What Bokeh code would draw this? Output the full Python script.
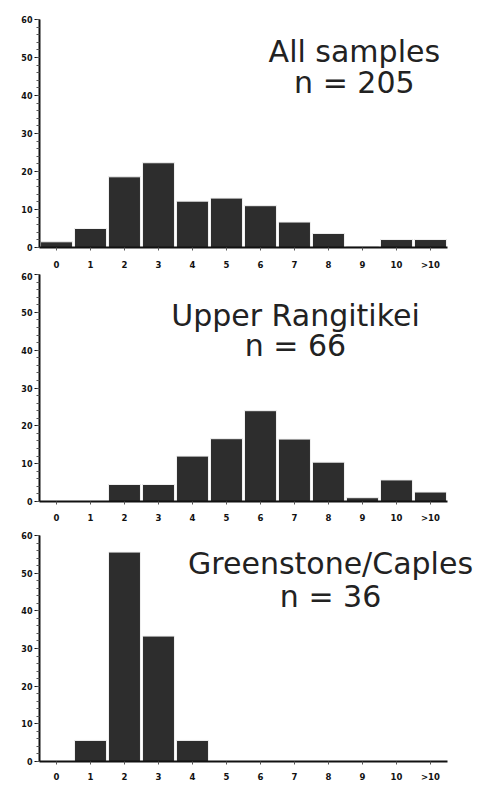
from bokeh.plotting import figure
from bokeh.models import Range1d, Label, FixedTicker
from bokeh.layouts import column
from bokeh.embed import file_html
from bokeh.resources import INLINE

categories = ["0", "1", "2", "3", "4", "5", "6", "7", "8", "9", "10", ">10"]

all_samples = [1.5, 5.0, 18.6, 22.3, 12.2, 13.0, 11.0, 6.7, 3.7, 0.3, 2.1, 2.1]
upper_rangitikei = [0.0, 0.0, 4.5, 4.5, 12.0, 16.6, 24.0, 16.5, 10.4, 1.0, 5.7, 2.5]
greenstone_caples = [0.0, 5.6, 55.6, 33.3, 5.6, 0.0, 0.0, 0.0, 0.0, 0.0, 0.0, 0.0]

titles = [("All samples", "n = 205"), ("Upper Rangitikei", "n = 66"), ("Greenstone/Caples", "n = 36")]
series = [all_samples, upper_rangitikei, greenstone_caples]

# per panel: (border_top, frame_height, label_standoff, text_x, y1, y2)
panel_cfg = [
    (19, 228, 9, 8.76, 51.6, 43.4),
    (2, 227, 8, 7.03, 49.2, 41.3),
    (10, 226, 7, 8.06, 52.5, 43.8),
]

FONT = "DejaVu Sans"
positions = list(range(len(categories)))
figs = []
for vals, (t1, t2), (bt, fh, so, tx, y1, y2) in zip(series, titles, panel_cfg):
    p = figure(x_range=Range1d(-0.5, 12.618), y_range=Range1d(0, 60),
               frame_width=446, frame_height=fh,
               min_border_left=39, min_border_right=0,
               min_border_top=bt, min_border_bottom=5,
               output_backend="svg", toolbar_location=None,
               background_fill_color="white", border_fill_color="white")
    p.outline_line_color = None
    p.xgrid.grid_line_color = None
    p.ygrid.grid_line_color = None

    p.vbar(x=positions, top=vals, width=0.94, bottom=0,
           fill_color="#2d2d2d", line_color="#f2f2f2", line_width=1)

    # y axis
    p.yaxis.ticker = FixedTicker(ticks=[0, 10, 20, 30, 40, 50, 60],
                                 minor_ticks=list(range(0, 61, 2)))
    p.yaxis.axis_line_width = 2
    p.yaxis.axis_line_color = "#111111"
    p.yaxis.major_tick_out = 5
    p.yaxis.major_tick_in = 0
    p.yaxis.minor_tick_out = 3
    p.yaxis.minor_tick_in = 0
    p.yaxis.major_tick_line_color = "#111111"
    p.yaxis.minor_tick_line_color = "#555555"
    p.yaxis.major_label_text_font = FONT
    p.yaxis.major_label_text_font_style = "bold"
    p.yaxis.major_label_text_font_size = "8px"
    p.yaxis.major_label_text_color = "#111111"
    p.yaxis.major_label_standoff = 2

    # x axis
    p.xaxis.ticker = FixedTicker(ticks=positions)
    p.xaxis.major_label_overrides = {i: c for i, c in zip(positions, categories)}
    p.xaxis.bounds = (-0.5, len(categories) - 0.5)
    p.xaxis.axis_line_width = 2
    p.xaxis.axis_line_color = "#111111"
    p.xaxis.major_tick_out = 3
    p.xaxis.major_tick_in = 0
    p.xaxis.minor_tick_line_color = None
    p.xaxis.major_tick_line_color = "#555555"
    p.xaxis.major_label_text_font = FONT
    p.xaxis.major_label_text_font_style = "bold"
    p.xaxis.major_label_text_font_size = "8.5px"
    p.xaxis.major_label_text_color = "#111111"
    p.xaxis.major_label_standoff = so

    for txt, yy in ((t1, y1), (t2, y2)):
        p.add_layout(Label(x=tx, y=yy, text=txt, text_align="center",
                           text_baseline="alphabetic", text_font=FONT,
                           text_font_size="30px", text_color="#222222"))
    figs.append(p)

layout = column(*figs, spacing=0)
open("out.html", "w").write(file_html(layout, INLINE))
